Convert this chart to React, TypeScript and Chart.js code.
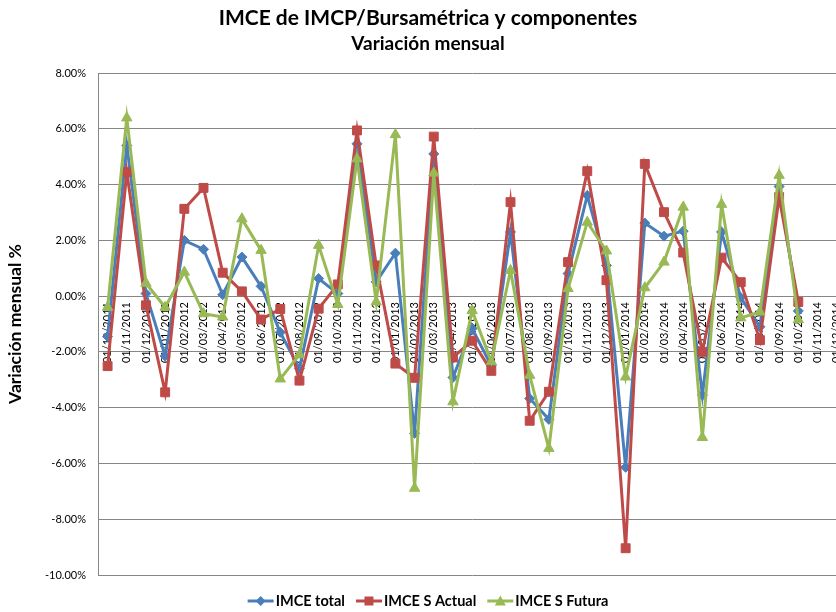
import React, { useEffect, useRef } from 'react';
import { Chart, registerables } from 'chart.js';

Chart.register(...registerables);

const TITLE = 'IMCE de IMCP/Bursamétrica y componentes';
const SUBTITLE = 'Variación mensual';
const Y_TITLE = 'Variación mensual %';

const categories = [
  '01/10/2011', '01/11/2011', '01/12/2011',
  '01/01/2012', '01/02/2012', '01/03/2012', '01/04/2012', '01/05/2012', '01/06/2012',
  '01/07/2012', '01/08/2012', '01/09/2012', '01/10/2012', '01/11/2012', '01/12/2012',
  '01/01/2013', '01/02/2013', '01/03/2013', '01/04/2013', '01/05/2013', '01/06/2013',
  '01/07/2013', '01/08/2013', '01/09/2013', '01/10/2013', '01/11/2013', '01/12/2013',
  '01/01/2014', '01/02/2014', '01/03/2014', '01/04/2014', '01/05/2014', '01/06/2014',
  '01/07/2014', '01/08/2014', '01/09/2014', '01/10/2014', '01/11/2014', '01/12/2014',
];

const imceTotal = [
  -1.45, 5.40, 0.09, -2.15, 2.00, 1.68, 0.05, 1.40, 0.35, -1.30,
  -2.60, 0.63, 0.09, 5.46, 0.51, 1.54, -4.92, 5.10, -2.92, -1.16,
  -2.50, 2.30, -3.67, -4.42, 0.81, 3.61, 1.10, -6.14, 2.62, 2.15,
  2.33, -3.55, 2.30, -0.05, -1.10, 3.93, -0.53,
];

const imceActual = [
  -2.51, 4.44, -0.33, -3.45, 3.13, 3.88, 0.84, 0.17, -0.84, -0.46,
  -3.03, -0.45, 0.42, 5.94, 1.10, -2.42, -2.93, 5.72, -2.20, -1.60,
  -2.68, 3.37, -4.47, -3.43, 1.22, 4.48, 0.57, -9.04, 4.74, 3.01,
  1.56, -2.00, 1.38, 0.50, -1.58, 3.55, -0.21,
];

const imceFutura = [
  -0.40, 6.39, 0.46, -0.40, 0.86, -0.63, -0.75, 2.77, 1.64, -2.97,
  -2.10, 1.82, -0.30, 4.92, -0.21, 5.79, -6.89, 4.41, -3.79, -0.52,
  -2.35, 0.92, -2.84, -5.46, 0.27, 2.65, 1.62, -2.90, 0.30, 1.22,
  3.19, -5.07, 3.29, -0.78, -0.57, 4.33, -0.85,
];

const Y_MIN = -10;
const Y_MAX = 8;
const Y_STEP = 2;

const BLUE = '#4A7EBB';
const RED = '#BE4B48';
const GREEN = '#98B954';
const GRID = '#868686';
const FONT = 'Lato, "Open Sans", sans-serif';

const W = 856;
const H = 612;

type LegendItem = { label: string; color: string; marker: 'diamond' | 'square' | 'triangle' };
const legendItems: LegendItem[] = [
  { label: 'IMCE total', color: BLUE, marker: 'diamond' },
  { label: 'IMCE S Actual', color: RED, marker: 'square' },
  { label: 'IMCE S Futura', color: GREEN, marker: 'triangle' },
];

function drawMarker(ctx: CanvasRenderingContext2D, kind: string, x: number, y: number, color: string) {
  ctx.fillStyle = color;
  ctx.beginPath();
  if (kind === 'diamond') {
    const r = 5;
    ctx.moveTo(x - r, y);
    ctx.lineTo(x, y - r);
    ctx.lineTo(x + r, y);
    ctx.lineTo(x, y + r);
  } else if (kind === 'square') {
    const h = 4.5;
    ctx.rect(x - h, y - h, 2 * h, 2 * h);
  } else {
    const r = 5.5;
    ctx.moveTo(x, y - r);
    ctx.lineTo(x + r, y + r * 0.8);
    ctx.lineTo(x - r, y + r * 0.8);
  }
  ctx.closePath();
  ctx.fill();
}

const decorPlugin = {
  id: 'excelDecor',
  afterDraw(chart: any) {
    const ctx: CanvasRenderingContext2D = chart.ctx;
    ctx.save();
    ctx.fillStyle = '#000';
    ctx.textAlign = 'center';
    ctx.textBaseline = 'middle';
    ctx.font = `bold 21px ${FONT}`;
    ctx.fillText(TITLE, W / 2, 18);
    ctx.font = `bold 19px ${FONT}`;
    ctx.fillText(SUBTITLE, W / 2, 44);

    // legend
    ctx.font = `bold 14.5px ${FONT}`;
    const lineLen = 26;
    const gap = 2;
    const spacing = 11;
    const widths = legendItems.map((it) => ctx.measureText(it.label).width);
    const total = widths.reduce((a, b) => a + b, 0) + legendItems.length * (lineLen + gap) + spacing * (legendItems.length - 1);
    let x = W / 2 - total / 2;
    const y = 601;
    legendItems.forEach((it, i) => {
      ctx.strokeStyle = it.color;
      ctx.lineWidth = 3;
      ctx.beginPath();
      ctx.moveTo(x, y);
      ctx.lineTo(x + lineLen, y);
      ctx.stroke();
      drawMarker(ctx, it.marker, x + lineLen / 2, y, it.color);
      ctx.fillStyle = '#000';
      ctx.textAlign = 'left';
      ctx.fillText(it.label, x + lineLen + gap, y);
      x += lineLen + gap + widths[i] + spacing;
    });
    ctx.restore();
  },
};

export default function App() {
  const ref = useRef<HTMLCanvasElement | null>(null);

  useEffect(() => {
    document.body.style.margin = '0';
    document.body.style.overflow = 'hidden';
    const canvas = ref.current;
    if (!canvas) return;
    const chart = new Chart(canvas, {
      type: 'line',
      data: {
        labels: categories,
        datasets: [
          {
            label: 'IMCE total',
            data: imceTotal,
            borderColor: BLUE,
            backgroundColor: BLUE,
            borderWidth: 3,
            pointStyle: 'rectRot',
            pointRadius: 5,
            pointBorderWidth: 1,
            pointBackgroundColor: BLUE,
            pointBorderColor: BLUE,
            tension: 0,
            fill: false,
            order: 2,
          },
          {
            label: 'IMCE S Actual',
            data: imceActual,
            borderColor: RED,
            backgroundColor: RED,
            borderWidth: 3,
            pointStyle: 'rect',
            pointRadius: 6.3,
            pointBorderWidth: 1,
            pointBackgroundColor: RED,
            pointBorderColor: RED,
            tension: 0,
            fill: false,
            order: 1,
          },
          {
            label: 'IMCE S Futura',
            data: imceFutura,
            borderColor: GREEN,
            backgroundColor: GREEN,
            borderWidth: 3,
            pointStyle: 'triangle',
            pointRadius: 6,
            pointBorderWidth: 1,
            pointBackgroundColor: GREEN,
            pointBorderColor: GREEN,
            tension: 0,
            fill: false,
            order: 0,
          },
        ],
      },
      options: {
        responsive: false,
        animation: false,
        devicePixelRatio: 1,
        layout: { padding: { top: 73, bottom: 37, left: 0, right: 9.5 } },
        plugins: {
          legend: { display: false },
          title: { display: false },
          tooltip: { enabled: false },
        },
        scales: {
          x: {
            type: 'category',
            position: { y: 0 } as any,
            offset: true,
            grid: { display: true, color: 'rgba(0,0,0,0)', drawTicks: false },
            border: { display: true, color: GRID, width: 1 },
            ticks: {
              autoSkip: false,
              maxRotation: 90,
              minRotation: 90,
              padding: 6,
              color: '#000',
              font: { family: FONT, size: 11 },
            },
          },
          y: {
            min: Y_MIN,
            max: Y_MAX,
            afterFit: (s: any) => {
              s.width = 98;
            },
            ticks: {
              stepSize: Y_STEP,
              padding: 12,
              color: '#000',
              font: { family: FONT, size: 11 },
              callback: (v: any) => Number(v).toFixed(2) + '%',
            },
            grid: { color: GRID, drawTicks: false, lineWidth: 1 },
            border: { display: true, color: GRID, width: 1 },
            title: {
              display: true,
              text: Y_TITLE,
              color: '#000',
              font: { family: FONT, size: 17.5, weight: 'bold' },
              padding: { top: 5, bottom: 0 },
            },
          },
        },
      },
      plugins: [decorPlugin],
    });
    return () => chart.destroy();
  }, []);

  return (
    <div style={{ width: 836, height: 612, overflow: 'hidden', position: 'relative', background: '#fff' }}>
      <canvas ref={ref} width={W} height={H} style={{ display: 'block', width: W, height: H }} />
    </div>
  );
}
